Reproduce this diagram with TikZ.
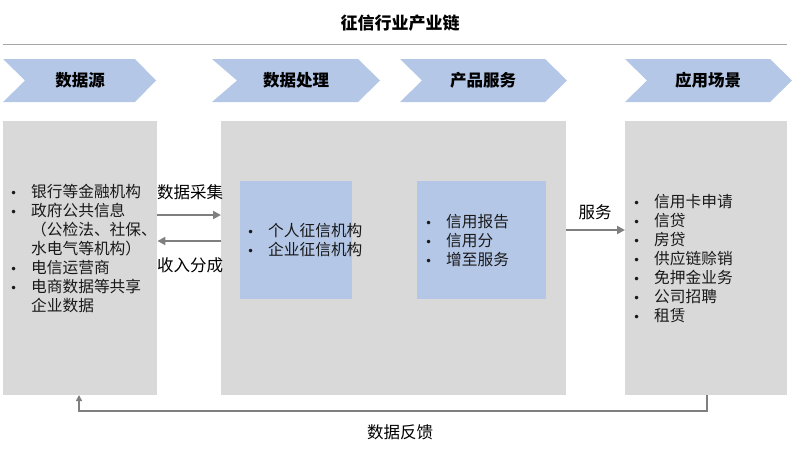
\documentclass[tikz,border=0pt]{standalone}
\usepackage{fontspec}
\setmainfont{Noto Sans CJK SC}
\newfontfamily\dejavu{DejaVu Sans}
\usetikzlibrary{arrows.meta}
\definecolor{chev}{HTML}{B4C7E7}
\definecolor{panel}{HTML}{D9D9D9}
\definecolor{arr}{HTML}{7F7F7F}
\definecolor{rule}{HTML}{A6A6A6}
\newcommand{\bl}{\makebox[21pt][l]{\dejavu\fontsize{12}{12}\selectfont •}}
\newcommand{\ind}{\makebox[21pt][l]{}}
\tikzset{
  chevtext/.style={font=\fontsize{16.5}{18}\selectfont\bfseries, inner sep=0},
  panelbox/.style={fill=panel, draw=none, anchor=north west, inner sep=0},
  bluebox/.style={fill=chev, draw=none, anchor=north west, inner sep=0},
  listtext/.style={font=\fontsize{15.7}{19}\selectfont, align=left, anchor=west, inner sep=0, text=black!90},
  lbl/.style={font=\fontsize{16.5}{18}\selectfont, inner sep=0},
  flow/.style={draw=arr, line width=2.4pt, -{Triangle[length=8pt,width=8pt]}},
}
\begin{document}
\begin{tikzpicture}[x=1pt,y=-1pt]
\useasboundingbox (0,0) rectangle (801,451);
% title
\node[font=\fontsize{17}{20}\selectfont\bfseries, inner sep=0] (title) at (400,23) {征信行业产业链};
\draw[draw=rule, line width=1pt] (3,44) -- (787,44);
% chevrons
\fill[chev] (3,59) -- (135,59) -- (156,80.5) -- (135,102) -- (3,102) -- (25,80.5) -- cycle;
\fill[chev] (212,59) -- (358,59) -- (380,80.5) -- (358,102) -- (212,102) -- (237,80.5) -- cycle;
\fill[chev] (400,59) -- (545,59) -- (567,80.5) -- (545,102) -- (400,102) -- (422,80.5) -- cycle;
\fill[chev] (625,59) -- (770,59) -- (792,80.5) -- (770,102) -- (625,102) -- (647,80.5) -- cycle;
\node[chevtext] (h1) at (80,80.5) {数据源};
\node[chevtext] (h2) at (296,80.5) {数据处理};
\node[chevtext] (h3) at (483,80.5) {产品服务};
\node[chevtext] (h4) at (708,80.5) {应用场景};
% panels
\node[panelbox, minimum width=154pt, minimum height=274pt] (src) at (3,121) {};
\node[panelbox, minimum width=345pt, minimum height=274pt] (proc) at (221,121) {};
\node[panelbox, minimum width=162pt, minimum height=274pt] (app) at (625,121) {};
\node[bluebox, minimum width=112pt, minimum height=118pt] (org) at (240,181) {};
\node[bluebox, minimum width=129pt, minimum height=118pt] (prod) at (417,181) {};
% lists
\node[listtext] (srclist) at (10,248) {\bl 银行等金融机构\\ \bl 政府公共信息\\ \ind （公检法、社保、\\ \ind 水电气等机构）\\ \bl 电信运营商\\ \bl 电商数据等共享\\ \ind 企业数据};
\node[listtext] (orglist) at (247,240.5) {\bl 个人征信机构\\ \bl 企业征信机构};
\node[listtext] (prodlist) at (425,241) {\bl 信用报告\\ \bl 信用分\\ \bl 增至服务};
\node[listtext] (applist) at (633,259) {\bl 信用卡申请\\ \bl 信贷\\ \bl 房贷\\ \bl 供应链赊销\\ \bl 免押金业务\\ \bl 公司招聘\\ \bl 租赁};
% arrows
\coordinate (a1s) at (src.east |- 0,215);
\coordinate (a1e) at (proc.west |- 0,215);
\coordinate (a2s) at (proc.west |- 0,241);
\coordinate (a2e) at (src.east |- 0,241);
\draw[flow] (a1s) -- (a1e);
\draw[flow] (a2s) -- (a2e);
\node[lbl] (collect) at (190,192) {数据采集};
\node[lbl] (income) at (190,265) {收入分成};
\coordinate (a3s) at (proc.east |- 0,230);
\coordinate (a3e) at (app.west |- 0,230);
\draw[flow] (a3s) -- (a3e);
\node[lbl] (serve) at (595,212) {服务};
% feedback
\coordinate (fbs) at (707,395);
\coordinate (fbe) at (79,395);
\draw[draw=arr, line width=1.8pt, -{Triangle[length=6pt,width=6pt]}] (fbs) -- (707,411) -- (79,411) -- (fbe);
\node[lbl] (fb) at (400,432) {数据反馈};
\end{tikzpicture}
\end{document}
